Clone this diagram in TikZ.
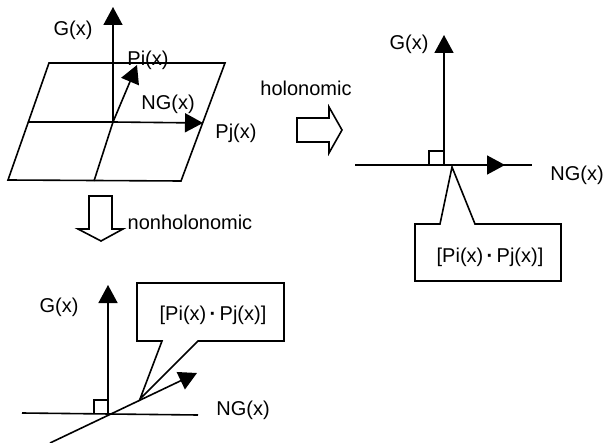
\documentclass[tikz,border=0pt]{standalone}
\usepackage{fontspec}
\setmainfont{Liberation Sans}
\usetikzlibrary{arrows.meta}
\tikzset{
    axis/.style={line width=1.6pt},
    lab/.style={inner sep=0pt, font=\fontsize{20}{22}\selectfont},
    hollow/.style={line width=1.6pt, line join=miter, fill=white}
}
\begin{document}
\begin{tikzpicture}[x=1pt, y=-1pt, >={Triangle[length=18pt, width=19pt]}]
    \useasboundingbox (0, 0) rectangle (604, 443);

    \coordinate (a1) at (49, 63);
    \coordinate (a2) at (225, 63);
    \coordinate (a3) at (181, 181);
    \coordinate (a4) at (8, 180);
    \coordinate (ml) at (28, 122);
    \coordinate (mb) at (94, 181);
    \coordinate (ot) at (113, 122);
    \coordinate (gt) at (113, 7);
    \coordinate (pit) at (137, 65);
    \coordinate (pjt) at (203, 123);
    \draw[axis] (a1) -- (a2) -- (a3) -- (a4) -- cycle;
    \draw[axis] (ot) -- (mb);
    \draw[axis, ->] (ot) -- (gt);
    \draw[axis, ->] (ot) -- (pit);
    \draw[axis, ->] (ml) -- (ot) -- (pjt);
    \node[lab] (gtop) at (73, 30) {G(x)};
    \node[lab] (pitop) at (148, 60) {Pi(x)};
    \node[lab] (ngtop) at (168, 104) {NG(x)};
    \node[lab] (pjtop) at (236, 133) {Pj(x)};

    \draw[hollow] (297, 118) -- (329, 118) -- (329, 107) -- (342, 130) -- (329, 153) -- (329, 142) -- (297, 142) -- cycle;
    \node[lab] (holo) at (306, 88) {holonomic};
    \draw[hollow] (89, 196) -- (112, 196) -- (112, 229) -- (123, 229) -- (101, 241) -- (78, 229) -- (89, 229) -- cycle;
    \node[lab] (nonholo) at (190, 222) {nonholonomic};

    \coordinate (or) at (444, 165);
    \coordinate (gr) at (444, 35);
    \coordinate (hl) at (355, 165);
    \coordinate (hr) at (532, 165);
    \coordinate (nr) at (505, 165);
    \draw[axis] (hl) -- (hr);
    \draw[axis, ->] (or) -- (nr);
    \draw[axis, ->] (or) -- (gr);
    \draw[axis] (429, 165) -- (429, 151) -- (444, 151);
    \draw[axis] (452, 167) -- (475, 224) -- (561, 224) -- (561, 281) -- (415, 281) -- (415, 224) -- (440, 224) -- cycle;
    \node[lab] (gright) at (409, 44) {G(x)};
    \node[lab] (ngright) at (577, 175) {NG(x)};
    \node[lab] (dotright) at (490, 257) {[Pi(x)\,\textbf{·}\,Pj(x)]};

    \coordinate (ob) at (108, 415);
    \coordinate (gb) at (108, 285);
    \coordinate (sl) at (50, 443);
    \coordinate (st) at (197, 373);
    \draw[axis] (22, 413) -- (198, 415);
    \draw[axis, ->] (ob) -- (gb);
    \draw[axis, ->] (sl) -- (st);
    \draw[axis] (94, 414) -- (94, 400) -- (108, 400);
    \draw[axis] (140, 399) -- (162, 341) -- (137, 341) -- (137, 283) -- (284, 283) -- (284, 341) -- (198, 341) -- cycle;
    \node[lab] (gbot) at (59, 307) {G(x)};
    \node[lab] (ngbot) at (243, 410) {NG(x)};
    \node[lab] (dotbot) at (213, 315) {[Pi(x)\,\textbf{·}\,Pj(x)]};
\end{tikzpicture}
\end{document}
